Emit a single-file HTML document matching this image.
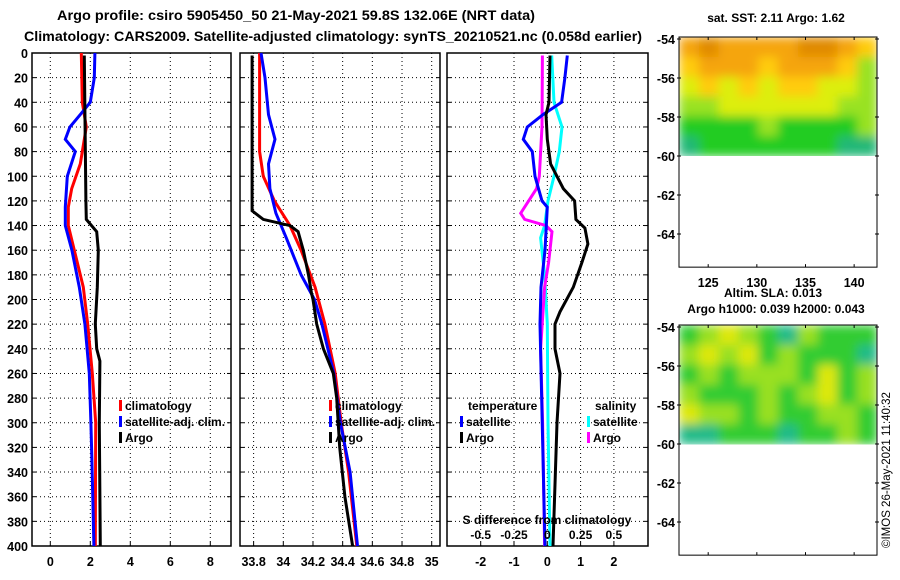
<!DOCTYPE html>
<html><head><meta charset="utf-8"><style>
body{margin:0;background:#fff;}
svg{display:block;font-family:"Liberation Sans",sans-serif;font-weight:bold;}
</style></head><body>
<svg id="c" width="900" height="580" viewBox="0 0 900 580">
<defs>
<filter id="blur" x="0" y="0" width="1" height="1"><feGaussianBlur stdDeviation="5" edgeMode="duplicate"/></filter>
<clipPath id="clip1"><rect x="679" y="37" width="198" height="119"/></clipPath>
<clipPath id="clip2"><rect x="679" y="325" width="198" height="121"/></clipPath>
</defs>
<text x="57" y="20" font-size="13.5" textLength="478" lengthAdjust="spacingAndGlyphs">Argo profile: csiro 5905450_50 21-May-2021 59.8S 132.06E (NRT data)</text>
<text x="24" y="41" font-size="13.5" textLength="618" lengthAdjust="spacingAndGlyphs">Climatology: CARS2009. Satellite-adjusted climatology: synTS_20210521.nc (0.058d earlier)</text>
<text x="776" y="22" font-size="12" text-anchor="middle">sat. SST: 2.11 Argo: 1.62</text>
<text x="773" y="297" font-size="12" text-anchor="middle">Altim. SLA: 0.013</text>
<text x="776" y="313" font-size="12" text-anchor="middle">Argo h1000: 0.039 h2000: 0.043</text>
<text transform="translate(890,548) rotate(-90)" font-size="11.5" font-weight="normal">©IMOS 26-May-2021 11:40:32</text>
</svg>
<script>
// ---- data ----
const depthTicks=[0,20,40,60,80,100,120,140,160,180,200,220,240,260,280,300,320,340,360,380,400];
const tTicks=[0,2,4,6,8];
const sTicks=[33.8,34,34.2,34.4,34.6,34.8,35];
const dTicks=[-2,-1,0,1,2];
const sdTicks=[-0.5,-0.25,0,0.25,0.5];
const tClimDepth=[0,40,60,90,110,125,140,160,190,220,260,300,400];
const tClim=[1.55,1.6,1.8,1.5,1.07,0.9,0.9,1.2,1.65,1.87,2.1,2.27,2.25];
const tSatDepth=[0,20,40,50,60,70,80,100,125,140,160,190,220,260,300,330,400];
const tSat=[2.23,2.2,2.0,1.5,0.98,0.75,1.25,0.85,0.75,0.75,1.08,1.45,1.73,1.95,2.03,2.08,2.18];
const tArgoDepth=[2,120,135,145,160,190,220,240,250,300,400];
const tArgo=[1.7,1.78,1.8,2.32,2.4,2.35,2.25,2.32,2.48,2.45,2.5];
const sArgoDepth=[2,128,135,140,145,160,180,195,200,220,240,260,280,320,360,400];
const sArgo=[33.79,33.79,33.865,34.045,34.1,34.135,34.17,34.19,34.2,34.225,34.27,34.337,34.36,34.38,34.415,34.467];
const sClimDepth=[0,80,100,120,140,160,190,220,260,300,340,400];
const sClim=[33.84,33.84,33.865,33.94,34.045,34.12,34.214,34.28,34.35,34.39,34.44,34.495];
const sSatDepth=[0,20,50,70,90,110,130,150,180,200,220,260,300,340,400];
const sSat=[33.85,33.877,33.9,33.944,33.9,33.91,33.95,34.02,34.12,34.21,34.26,34.34,34.385,34.45,34.5];
const dTSatDepth=[2,20,40,50,60,70,80,100,120,125,160,190,220,400];
const dTSat=[0.6,0.53,0.43,-0.13,-0.6,-0.72,-0.45,-0.37,-0.16,0,-0.07,-0.19,-0.22,-0.07];
const dTArgoDepth=[2,40,50,70,90,110,120,135,142,155,170,190,210,220,240,260,300,400];
const dTArgo=[0.08,0.05,-0.04,0,0.1,0.48,0.82,0.86,1.13,1.22,1.04,0.78,0.38,0.23,0.23,0.38,0.29,0.17];
const dSSatDepth=[2,40,60,80,100,120,140,150,180,220,300,400];
const dSSat=[0.033,0.05,0.11,0.09,0.05,0.005,-0.02,-0.05,-0.02,0,0.005,0.02];
const dSArgoDepth=[2,60,100,110,130,135,140,145,170,190,240,300,400];
const dSArgo=[-0.037,-0.04,-0.06,-0.08,-0.2,-0.17,-0.01,0.035,0.01,-0.02,-0.05,-0.035,-0.02];
const sstGrid=[[5,6,5,5,5,5,6,6,5,4],[4,5,5,5,4,5,5,5,4,2],[3,4,3,4,3,4,4,3,3,2],[2,2,3,3,3,3,3,3,2,2],[1,1,1,1,2,1,1,1,1,2],[0,1,1,1,1,1,1,1,0,0]];
const slaGrid=[[1,2,3,2,1,0,2,1,1,1],[2,3,2,3,1,2,1,1,1,0],[1,2,1,2,2,2,1,3,1,2],[2,1,1,1,2,1,2,3,1,2],[3,2,2,1,2,1,1,2,2,1],[0,0,1,1,1,0,1,1,2,1]];
const latTicks=[-54,-56,-58,-60,-62,-64];
const lonTicks=[125,130,135,140];
// ---- drawing ----
const svg=document.getElementById('c');const NS='http://www.w3.org/2000/svg';
function mk(t,a,p){const e=document.createElementNS(NS,t);for(const k in a)e.setAttribute(k,a[k]);(p||svg).appendChild(e);return e;}
const y=d=>53+d*493/400;
const xT=v=>50.3+v*20, xS=v=>283.3+(v-34)*148.4, xD=v=>547.3+v*33.3, xSD=v=>547.3+v*133.2;
function panel(name,x0,x1,ticks,xf,showDepth){
  const g=mk('g',{});
  
  
  depthTicks.forEach(d=>{
    if(d>0&&d<400){const l=mk('line',{x1:x0,x2:x1,y1:y(d),y2:y(d),stroke:'#000','stroke-width':1,'stroke-dasharray':'1,3'},g);
    }
    mk('line',{x1:x0,x2:x0+4,y1:y(d),y2:y(d),stroke:'#000'},g);mk('line',{x1:x1-4,x2:x1,y1:y(d),y2:y(d),stroke:'#000'},g);
    if(showDepth){const t=mk('text',{x:x0-4,y:y(d)+5,'font-size':12.5,'text-anchor':'end'},g);t.textContent=d;
    }
  });
  ticks.forEach(v=>{const X=xf(v);
    const l=mk('line',{x1:X,x2:X,y1:53,y2:546,stroke:'#000','stroke-dasharray':'1,3'},g);
    
    mk('line',{x1:X,x2:X,y1:542,y2:546,stroke:'#000'},g);
    const t=mk('text',{x:X,y:566,'font-size':12.5,'text-anchor':'middle'},g);t.textContent=v;
    });
  const r=mk('rect',{x:x0,y:53,width:x1-x0,height:493,fill:'none',stroke:'#000','stroke-width':1.5},g);
  
}
panel('temperature-panel',32,231,tTicks,xT,true);
panel('salinity-panel',240,440,sTicks,xS,false);
panel('difference-panel',447,648,dTicks,xD,false);
function line(name,ds,vs,xf,col){
  const p=mk('polyline',{points:ds.map((d,i)=>xf(vs[i]).toFixed(1)+','+y(d).toFixed(1)).join(' '),fill:'none',stroke:col,'stroke-width':3});
  
}
line('temp-climatology-line',tClimDepth,tClim,xT,'#f00');
line('temp-satellite-line',tSatDepth,tSat,xT,'#00f');
line('temp-argo-line',tArgoDepth,tArgo,xT,'#000');
line('sal-climatology-line',sClimDepth,sClim,xS,'#f00');
line('sal-satellite-line',sSatDepth,sSat,xS,'#00f');
line('sal-argo-line',sArgoDepth,sArgo,xS,'#000');
line('sdiff-satellite-line',dSSatDepth,dSSat,xSD,'#0ff');
line('sdiff-argo-line',dSArgoDepth,dSArgo,xSD,'#f0f');
line('tdiff-satellite-line',dTSatDepth,dTSat,xD,'#00f');
line('tdiff-argo-line',dTArgoDepth,dTArgo,xD,'#000');
function txt(name,x,yy,s,size,anchor){const t=mk('text',{x:x,y:yy,'font-size':size||12,'text-anchor':anchor||'start'});t.textContent=s;
  return t;}
function leg(name,x,yy,col,label){const r=mk('rect',{x:x,y:yy-10,width:3,height:11,fill:col});
  txt(name+'-label',x+6,yy,label);}
leg('legend-t-climatology',119,410,'#f00','climatology');
leg('legend-t-satellite',119,426,'#00f','satellite-adj. clim.');
leg('legend-t-argo',119,442,'#000','Argo');
leg('legend-s-climatology',329,410,'#f00','climatology');
leg('legend-s-satellite',329,426,'#00f','satellite-adj. clim.');
leg('legend-s-argo',329,442,'#000','Argo');
txt('legend-temperature-heading',468,410,'temperature');
leg('legend-d-tsat',460,426,'#00f','satellite');
leg('legend-d-targo',460,442,'#000','Argo');
txt('legend-salinity-heading',595,410,'salinity');
leg('legend-d-ssat',587,426,'#0ff','satellite');
leg('legend-d-sargo',587,442,'#f0f','Argo');
txt('s-difference-axis-title',547,524,'S difference from climatology',12,'middle');
sdTicks.forEach(v=>txt('s-difference-tick',xSD(v),539,String(v),12,'middle'));
// maps
const lonX=l=>679+(l-122)*9.73;
function map(name,top,grid,pal,clip){
  const g=mk('g',{});
  const latY=la=>top+2+(-54-la)*19.5;
  const y0=top, y1=latY(-60), cw=198/grid[0].length, ch=(y1-y0)/grid.length;
  const cg=mk('g',{'clip-path':'url(#'+clip+')'},g);
  const bg=mk('g',{filter:'url(#blur)'},cg);
  grid.forEach((row,r)=>row.forEach((v,c)=>{const e=mk('rect',{x:679+c*cw,y:y0+r*ch,width:cw+0.5,height:ch+0.5,fill:pal[v]},bg);
    }));
  mk('rect',{x:679,y:top,width:198,height:latY(-65.7)-top,fill:'none',stroke:'#000'},g);
  latTicks.forEach(la=>{mk('line',{x1:677,x2:681,y1:latY(la),y2:latY(la),stroke:'#000'},g);mk('line',{x1:875,x2:879,y1:latY(la),y2:latY(la),stroke:'#000'},g);
    const t=mk('text',{x:675,y:latY(la)+5,'font-size':12.5,'text-anchor':'end'},g);t.textContent=la;
    });
  lonTicks.forEach(lo=>{const b=latY(-65.7);mk('line',{x1:lonX(lo),x2:lonX(lo),y1:b-3,y2:b,stroke:'#000'},g);mk('line',{x1:lonX(lo),x2:lonX(lo),y1:top,y2:top+3,stroke:'#000'},g);});
}
const sstPal=['#22b877','#22cc22','#99e222','#ddee11','#ffcc11','#f5a50a','#e08a05'];
const slaPal=['#22bb88','#33cc33','#99e022','#dde811'];
map('sst-map',37,sstGrid,sstPal,'clip1');
lonTicks.forEach(lo=>txt('lon-tick-label',lonX(lo),287,String(lo),12.5,'middle'));
map('sla-map',325,slaGrid,slaPal,'clip2');
</script>
</body></html>
